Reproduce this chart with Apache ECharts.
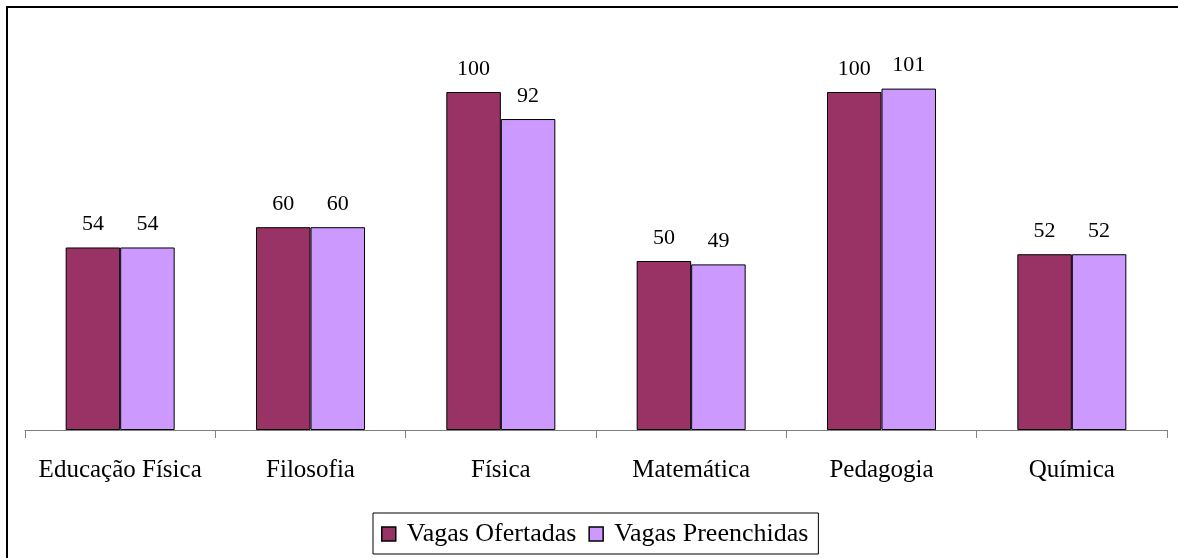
<!DOCTYPE html>
<html>
<head>
<meta charset="utf-8">
<script src="https://cdn.jsdelivr.net/npm/echarts@6/dist/echarts.min.js"></script>
<style>
	html, body { margin: 0; padding: 0; background: #fff; }
	#chart { width: 1178px; height: 558px; }
</style>
</head>
<body>
<div id="chart"></div>
<script>
const categories = ['Educação Física', 'Filosofia', 'Física', 'Matemática', 'Pedagogia', 'Química']
const ofertadas = [54, 60, 100, 50, 100, 52]
const preenchidas = [54, 60, 92, 49, 101, 52]
const seriesNames = ['Vagas Ofertadas', 'Vagas Preenchidas']

const fontFamily = '"Liberation Serif", "Times New Roman", serif'

const chart = echarts.init(document.getElementById('chart'))

const labelStyle = {
	show: true,
	position: 'top',
	distance: 12,
	color: '#000',
	fontSize: 22,
	fontFamily: fontFamily
}

chart.setOption({
	animation: false,
	graphic: [
		{
			type: 'rect',
			shape: { x: 7, y: 7, width: 1300, height: 700 },
			style: { fill: 'none', stroke: '#000', lineWidth: 2 },
			silent: true
		}
	],
	grid: {
		left: 25,
		right: 11,
		top: 24.4,
		bottom: 128
	},
	legend: {
		data: seriesNames,
		left: 373,
		top: 513,
		orient: 'horizontal',
		borderColor: '#000',
		borderWidth: 1,
		padding: [8, 10, 7, 8],
		itemWidth: 14,
		itemHeight: 14,
		itemGap: 12,
		icon: 'rect',
		itemStyle: { borderColor: '#000', borderWidth: 1.5 },
		textStyle: {
			color: '#000',
			fontSize: 26,
			fontFamily: fontFamily,
			padding: [0, 0, 0, 6]
		}
	},
	xAxis: {
		type: 'category',
		data: categories,
		axisLine: { lineStyle: { color: '#808080', width: 1 } },
		axisTick: { show: true, interval: 0, length: 8, lineStyle: { color: '#808080' } },
		axisLabel: {
			interval: 0,
			color: '#000',
			fontSize: 25,
			fontFamily: fontFamily,
			margin: 28
		}
	},
	yAxis: {
		type: 'value',
		min: 0,
		max: 120,
		show: false
	},
	series: [
		{
			name: seriesNames[0],
			type: 'bar',
			data: ofertadas,
			barWidth: 54.5,
			barGap: '0%',
			itemStyle: { color: '#993366', borderColor: '#000', borderWidth: 1 },
			label: labelStyle
		},
		{
			name: seriesNames[1],
			type: 'bar',
			data: preenchidas,
			barWidth: 54.5,
			barGap: '0%',
			itemStyle: { color: '#CC99FF', borderColor: '#000', borderWidth: 1 },
			label: labelStyle
		}
	]
})
</script>
</body>
</html>
